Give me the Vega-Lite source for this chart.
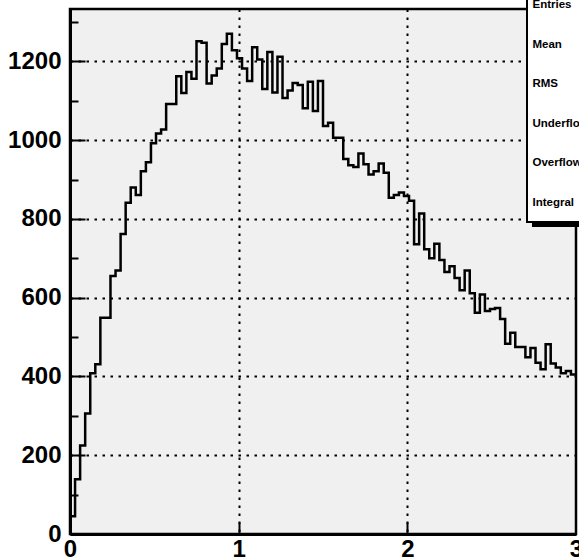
{
  "$schema": "https://vega.github.io/schema/vega-lite/v6.json",
  "width": 506,
  "height": 525,
  "autosize": {"type": "none"},
  "padding": {"left": 70, "top": 9, "right": 3, "bottom": 24},
  "background": "white",
  "config": {
    "view": {"stroke": "black", "strokeWidth": 2.5, "fill": "#f0f0f0"},
    "font": "Liberation Sans"
  },
  "datasets": {
    "hist": [
      {"x": 0.00, "n": 45}, {"x": 0.03, "n": 139}, {"x": 0.06, "n": 225}, {"x": 0.09, "n": 306},
      {"x": 0.12, "n": 408}, {"x": 0.15, "n": 431}, {"x": 0.18, "n": 549}, {"x": 0.21, "n": 549},
      {"x": 0.24, "n": 655}, {"x": 0.27, "n": 669}, {"x": 0.30, "n": 762}, {"x": 0.33, "n": 841},
      {"x": 0.36, "n": 880}, {"x": 0.39, "n": 861}, {"x": 0.42, "n": 921}, {"x": 0.45, "n": 944},
      {"x": 0.48, "n": 992}, {"x": 0.51, "n": 1017}, {"x": 0.54, "n": 1027}, {"x": 0.57, "n": 1092},
      {"x": 0.60, "n": 1092}, {"x": 0.63, "n": 1162}, {"x": 0.66, "n": 1120}, {"x": 0.69, "n": 1173},
      {"x": 0.72, "n": 1156}, {"x": 0.75, "n": 1251}, {"x": 0.78, "n": 1247}, {"x": 0.81, "n": 1144},
      {"x": 0.84, "n": 1164}, {"x": 0.87, "n": 1182}, {"x": 0.90, "n": 1244}, {"x": 0.93, "n": 1270},
      {"x": 0.96, "n": 1228}, {"x": 0.99, "n": 1208}, {"x": 1.02, "n": 1182}, {"x": 1.05, "n": 1150},
      {"x": 1.08, "n": 1236}, {"x": 1.11, "n": 1205}, {"x": 1.14, "n": 1130}, {"x": 1.17, "n": 1224},
      {"x": 1.20, "n": 1121}, {"x": 1.23, "n": 1212}, {"x": 1.26, "n": 1107}, {"x": 1.29, "n": 1126},
      {"x": 1.32, "n": 1145}, {"x": 1.35, "n": 1140}, {"x": 1.38, "n": 1081}, {"x": 1.41, "n": 1148},
      {"x": 1.44, "n": 1074}, {"x": 1.47, "n": 1150}, {"x": 1.50, "n": 1036}, {"x": 1.53, "n": 1044},
      {"x": 1.56, "n": 1006}, {"x": 1.59, "n": 1006}, {"x": 1.62, "n": 952}, {"x": 1.65, "n": 936},
      {"x": 1.68, "n": 932}, {"x": 1.71, "n": 966}, {"x": 1.74, "n": 939}, {"x": 1.77, "n": 913},
      {"x": 1.80, "n": 921}, {"x": 1.83, "n": 941}, {"x": 1.86, "n": 917}, {"x": 1.89, "n": 854},
      {"x": 1.92, "n": 861}, {"x": 1.95, "n": 867}, {"x": 1.98, "n": 858}, {"x": 2.01, "n": 846},
      {"x": 2.04, "n": 736}, {"x": 2.07, "n": 814}, {"x": 2.10, "n": 723}, {"x": 2.13, "n": 700},
      {"x": 2.16, "n": 737}, {"x": 2.19, "n": 696}, {"x": 2.22, "n": 665}, {"x": 2.25, "n": 680},
      {"x": 2.28, "n": 650}, {"x": 2.31, "n": 619}, {"x": 2.34, "n": 669}, {"x": 2.37, "n": 611},
      {"x": 2.40, "n": 562}, {"x": 2.43, "n": 608}, {"x": 2.46, "n": 566}, {"x": 2.49, "n": 571},
      {"x": 2.52, "n": 574}, {"x": 2.55, "n": 546}, {"x": 2.58, "n": 483}, {"x": 2.61, "n": 511},
      {"x": 2.64, "n": 475}, {"x": 2.67, "n": 475}, {"x": 2.70, "n": 449}, {"x": 2.73, "n": 472},
      {"x": 2.76, "n": 435}, {"x": 2.79, "n": 418}, {"x": 2.82, "n": 482}, {"x": 2.85, "n": 433},
      {"x": 2.88, "n": 423}, {"x": 2.91, "n": 408}, {"x": 2.94, "n": 414}, {"x": 2.97, "n": 405},
      {"x": 3.00, "n": 405}
    ],
    "one": [{}]
  },
  "layer": [
    {
      "data": {"name": "hist"},
      "mark": {"type": "line", "interpolate": "step-after", "color": "black", "strokeWidth": 2.5},
      "encoding": {
        "x": {
          "field": "x", "type": "quantitative",
          "scale": {"domain": [0, 3], "nice": false, "zero": false},
          "axis": {
            "values": [0, 1, 2, 3], "format": "d", "title": null,
            "grid": true, "gridColor": "black", "gridWidth": 2, "gridDash": [2.5, 5.5],
            "gridOpacity": {"condition": {"test": "datum.value > 0 && datum.value < 3", "value": 1}, "value": 0},
            "ticks": true, "tickSize": -12, "tickWidth": 2, "tickColor": "black",
            "tickOpacity": {"condition": {"test": "datum.value > 0 && datum.value < 3", "value": 1}, "value": 0},
            "labelFont": "Liberation Sans", "labelFontWeight": "bold", "labelFontSize": 24, "labelColor": "black",
            "labelPadding": 15, "labelFlush": false, "labelOverlap": false, "labelBound": false,
            "domainColor": "black", "domainWidth": 3
          }
        },
        "y": {
          "field": "n", "type": "quantitative",
          "scale": {"domain": [0, 1333], "nice": false, "zero": true},
          "axis": {
            "values": [0, 50, 100, 150, 200, 250, 300, 350, 400, 450, 500, 550, 600, 650, 700, 750, 800, 850, 900, 950, 1000, 1050, 1100, 1150, 1200, 1250, 1300],
            "labelExpr": "datum.value % 200 === 0 ? datum.label : ''",
            "format": "d", "title": null,
            "grid": true, "gridColor": "black", "gridWidth": 2, "gridDash": [2.5, 5.5],
            "gridOpacity": {"condition": {"test": "datum.value % 200 === 0 && datum.value > 0", "value": 1}, "value": 0},
            "ticks": true,
            "tickSize": {"condition": {"test": "datum.value % 200 === 0", "value": -15}, "value": -8},
            "tickWidth": 2, "tickColor": "black",
            "labelFont": "Liberation Sans", "labelFontWeight": "bold", "labelFontSize": 24, "labelColor": "black",
            "labelPadding": 24, "labelFlush": false, "labelOverlap": false, "labelBound": false,
            "domainColor": "black", "domainWidth": 3
          }
        }
      }
    },
    {
      "data": {"name": "one"},
      "mark": {"type": "rect", "color": "black", "opacity": 1},
      "encoding": {
        "x": {"datum": 2.739, "type": "quantitative"},
        "x2": {"datum": 3.1},
        "y": {"datum": 779.5, "type": "quantitative"},
        "y2": {"datum": 1380}
      }
    },
    {
      "data": {"name": "one"},
      "mark": {"type": "rect", "fill": "white", "stroke": "black", "strokeWidth": 2, "opacity": 1},
      "encoding": {
        "x": {"datum": 2.7095, "type": "quantitative"},
        "x2": {"datum": 3.1},
        "y": {"datum": 792.2, "type": "quantitative"},
        "y2": {"datum": 1380}
      }
    },
    {
      "data": {"name": "one"},
      "mark": {
        "type": "text",
        "text": ["Entries", "Mean", "RMS", "Underflow", "Overflow", "Integral"],
        "lineHeight": 39.5, "align": "left", "baseline": "alphabetic",
        "font": "Liberation Sans", "fontWeight": "bold", "fontSize": 11.5, "color": "black"
      },
      "encoding": {
        "x": {"datum": 2.742, "type": "quantitative"},
        "y": {"datum": 1334.3, "type": "quantitative"}
      }
    }
  ]
}
